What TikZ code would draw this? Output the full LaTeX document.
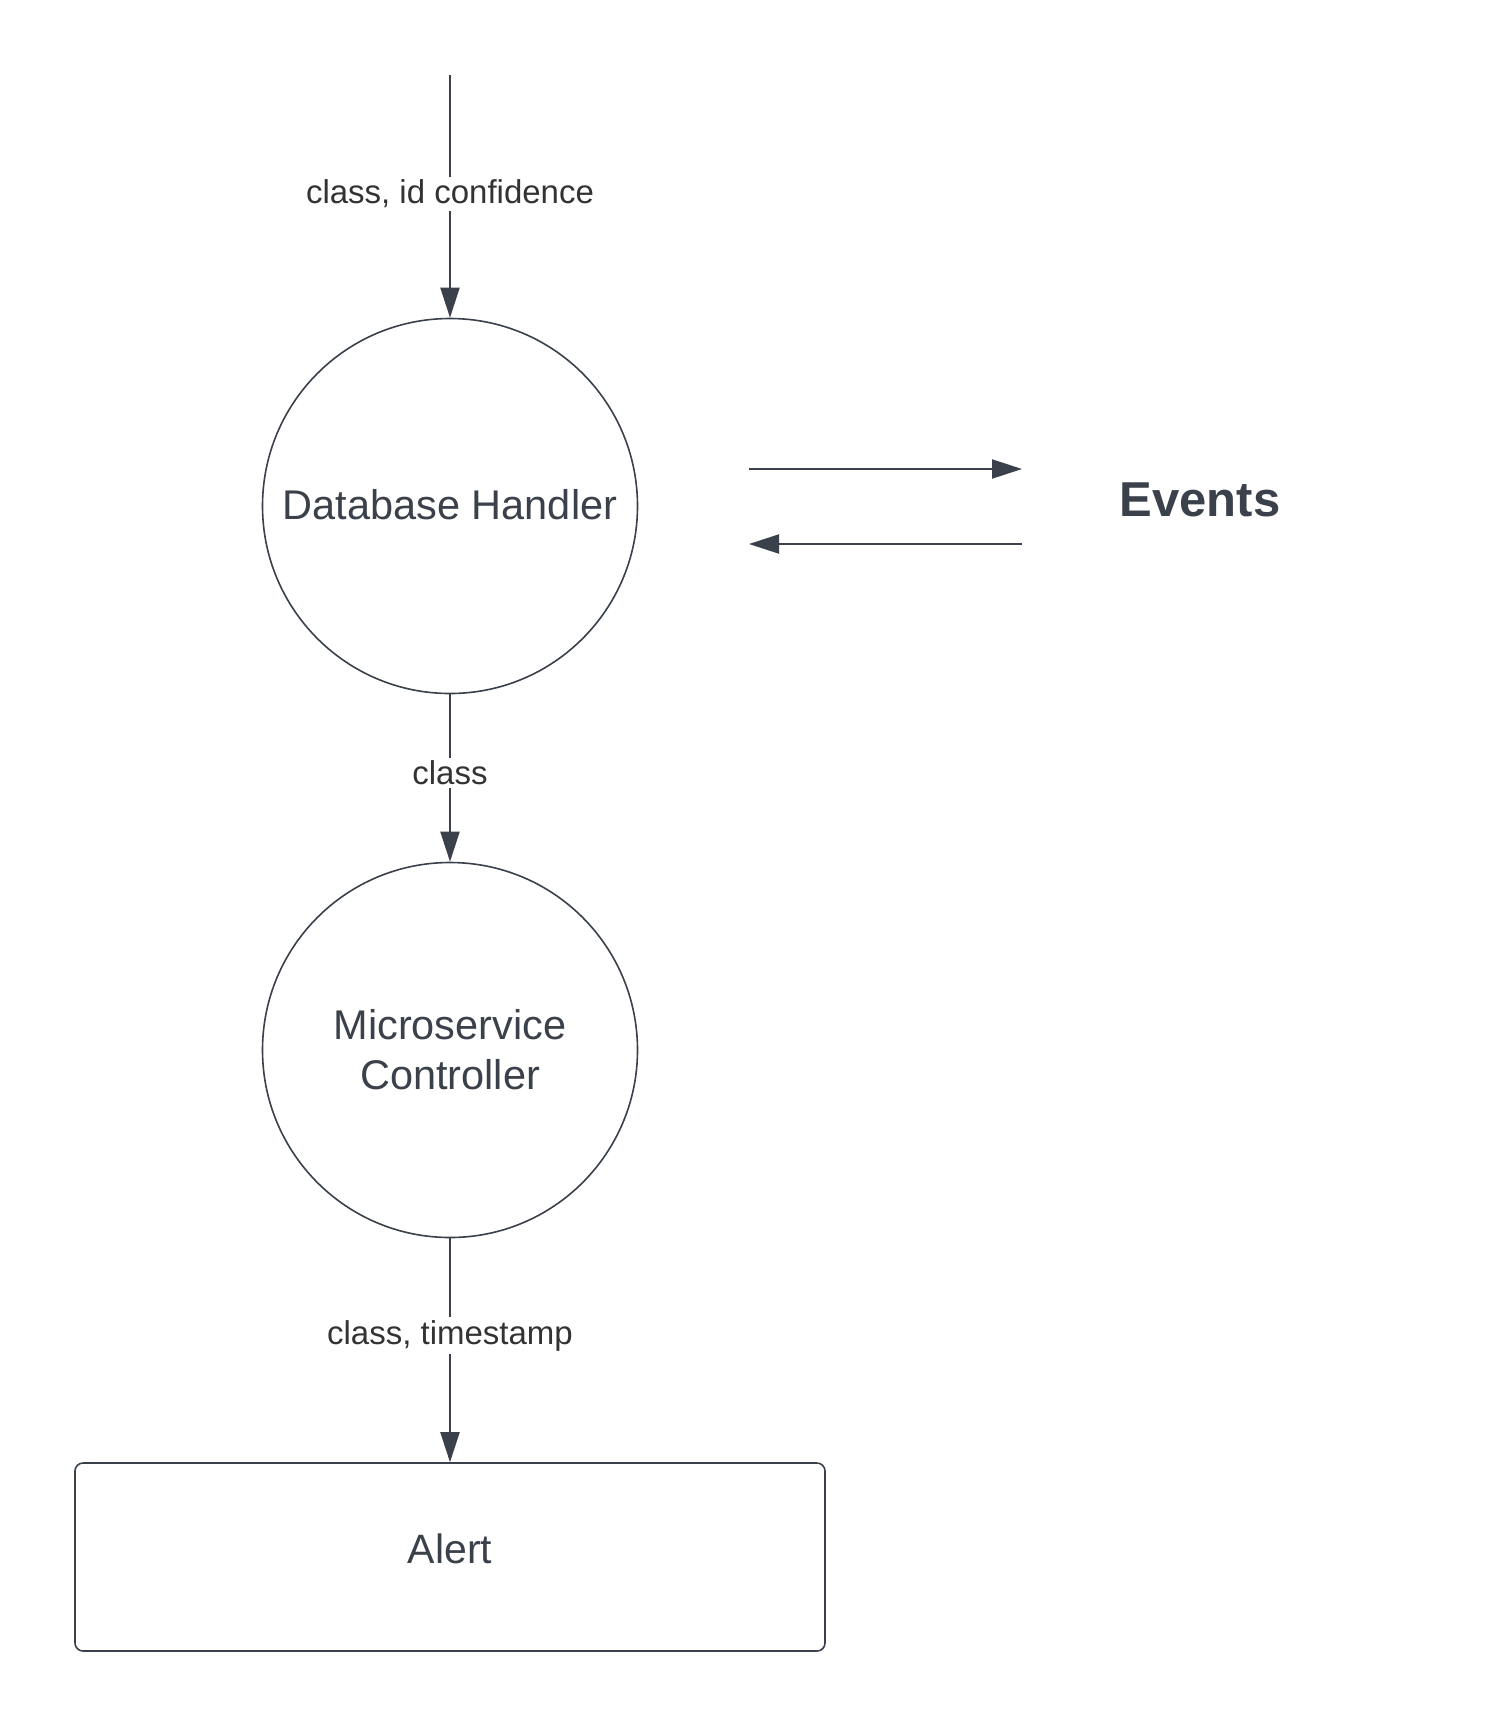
\documentclass[tikz,border=0pt]{standalone}
\usepackage{fontspec}
\setmainfont{Liberation Sans}
\usetikzlibrary{arrows.meta}
\definecolor{ink}{HTML}{3A414A}
\definecolor{lbl}{HTML}{333333}
\tikzset{
  proc/.style={circle, draw=ink, line width=1.6pt, minimum size=375pt, inner sep=0pt, text=ink, align=center, font=\fontsize{41.5}{50}\selectfont},
  boxnode/.style={rectangle, rounded corners=8pt, draw=ink, line width=1.6pt, minimum width=750pt, minimum height=188pt, inner sep=0pt, text=ink, font=\fontsize{41}{50}\selectfont},
  flow/.style={draw=ink, line width=2pt, -{Triangle[width=19pt,length=30pt]}},
  flowlabel/.style={fill=white, text=lbl, inner sep=3pt, font=\fontsize{33}{40}\selectfont},
}
\begin{document}
\begin{tikzpicture}[x=1pt,y=-1pt]
\useasboundingbox[fill=white] (0,0) rectangle (1500,1725);
\coordinate (src) at (450,75);
\node[proc] (db) at (450,506) {\raisebox{3pt}{Database Handler}};
\node[proc] (ms) at (450,1050) {Microservice\\Controller};
\node[boxnode] (alert) at (450,1557) {};
\node[text=ink, font=\fontsize{41}{50}\selectfont] (alertlbl) at (450,1549) {Alert};
\node[text=ink, font=\bfseries\fontsize{49}{58}\selectfont] (events) at (1200,500) {Events};
\coordinate (o1) at (749,469);
\coordinate (o2) at (1022,469);
\coordinate (i1) at (1022,544);
\coordinate (i2) at (749,544);
\draw[flow] (src) -- node[flowlabel, pos=0.49] {class, id confidence} (db.north);
\draw[flow] (db.south) -- node[flowlabel, pos=0.47] {class} (ms.north);
\draw[flow] (ms.south) -- node[flowlabel, pos=0.435] {class, timestamp} (alert.north);
\draw[flow] (o1) -- (o2);
\draw[flow] (i1) -- (i2);
\end{tikzpicture}
\end{document}
